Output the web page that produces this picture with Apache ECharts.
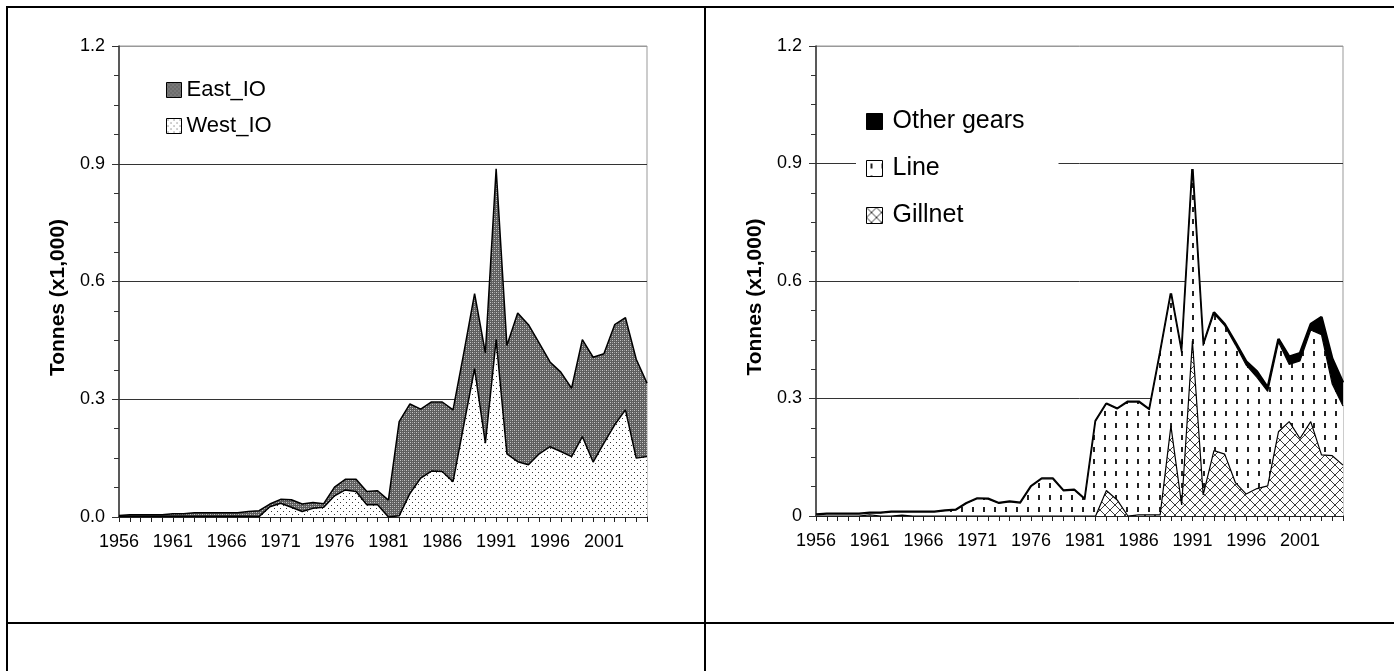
<!DOCTYPE html>
<html>
<head>
<meta charset="utf-8" />
<title>Tonnes by area and gear</title>
<script src="https://cdn.jsdelivr.net/npm/echarts@6/dist/echarts.min.js"></script>
<style>
html, body { margin: 0; padding: 0; background: #fff; }
#main { width: 1394px; height: 671px; }
</style>
</head>
<body>
<div id="main"></div>
<script type="text/javascript">
var years = ['1956','1957','1958','1959','1960','1961','1962','1963','1964','1965',
             '1966','1967','1968','1969','1970','1971','1972','1973','1974','1975',
             '1976','1977','1978','1979','1980','1981','1982','1983','1984','1985',
             '1986','1987','1988','1989','1990','1991','1992','1993','1994','1995',
             '1996','1997','1998','1999','2000','2001','2002','2003','2004','2005'];
var yTicks = [0, 0.3, 0.6, 0.9, 1.2];

// left chart (x1,000 t)
var westIO = [0.002,0.002,0.002,0.002,0.002,0.002,0.002,0.002,0.002,0.002,
              0.002,0.002,0.002,0.001,0.026,0.035,0.025,0.014,0.022,0.025,
              0.054,0.069,0.065,0.031,0.031,0.000,0.003,0.060,0.099,0.117,
              0.116,0.090,0.235,0.378,0.188,0.452,0.161,0.141,0.133,0.161,
              0.179,0.167,0.154,0.205,0.140,0.188,0.235,0.273,0.150,0.154];
var eastIO = [0.002,0.004,0.004,0.004,0.004,0.006,0.006,0.009,0.009,0.009,
              0.009,0.009,0.012,0.015,0.007,0.010,0.019,0.019,0.015,0.009,
              0.022,0.027,0.031,0.034,0.036,0.043,0.240,0.228,0.176,0.176,
              0.177,0.183,0.183,0.191,0.230,0.435,0.276,0.379,0.357,0.282,
              0.216,0.202,0.174,0.247,0.267,0.228,0.255,0.235,0.252,0.187];

// right chart (x1,000 t)
var gillnet = [0,0,0,0,0,0.003,0,0,0.002,0,
               0,0,0,0,0,0,0,0,0,0,
               0,0,0,0,0,0,0,0.065,0.041,0,
               0.003,0.003,0.003,0.230,0.028,0.447,0.054,0.167,0.158,0.085,
               0.056,0.070,0.077,0.215,0.241,0.198,0.241,0.156,0.154,0.130];
var lineGear = [0.003,0.005,0.005,0.005,0.005,0.004,0.007,0.010,0.008,0.010,
                0.010,0.010,0.013,0.015,0.032,0.044,0.043,0.032,0.036,0.033,
                0.075,0.095,0.095,0.064,0.066,0.042,0.242,0.221,0.232,0.291,
                0.288,0.268,0.413,0.337,0.388,0.438,0.381,0.350,0.328,0.352,
                0.329,0.284,0.241,0.229,0.146,0.198,0.234,0.307,0.183,0.151];
var otherGears = [0.001,0.001,0.001,0.001,0.001,0.001,0.001,0.001,0.001,0.001,
                  0.001,0.001,0.001,0.001,0.001,0.001,0.001,0.001,0.001,0.001,
                  0.001,0.001,0.001,0.001,0.001,0.001,0.001,0.001,0.001,0.001,
                  0.001,0.001,0.001,0.001,0.001,0.001,0.001,0.003,0.004,0.006,
                  0.010,0.015,0.010,0.008,0.020,0.020,0.015,0.045,0.065,0.060];

var FONT = '"Liberation Sans", Arial, sans-serif';

// fill patterns
function pattern(w, h, draw) {
  var c = document.createElement('canvas');
  c.width = w; c.height = h;
  var ctx = c.getContext('2d');
  ctx.fillStyle = '#fff';
  ctx.fillRect(0, 0, w, h);
  draw(ctx, w, h);
  return { image: c, repeat: 'repeat' };
}
var eastFill = pattern(4, 4, function (ctx) {
  ctx.fillStyle = '#5e5e5e'; ctx.fillRect(0, 0, 4, 4);
  ctx.fillStyle = '#c8c8c8'; ctx.fillRect(0, 0, 1, 1); ctx.fillRect(2, 2, 1, 1);
  ctx.fillStyle = '#999'; ctx.fillRect(2, 0, 1, 1); ctx.fillRect(0, 2, 1, 1);
});
var westFill = pattern(6, 6, function (ctx) {
  ctx.fillStyle = '#333'; ctx.fillRect(1, 1, 1, 1); ctx.fillRect(4, 4, 1, 1);
});
var lineFill = pattern(11, 12, function (ctx) {
  ctx.fillStyle = '#222'; ctx.fillRect(4, 3, 2, 5);
});
var gillFill = pattern(10, 10, function (ctx, w) {
  ctx.fillStyle = '#3a3a3a';
  for (var i = 0; i < w; i++) { ctx.fillRect(i, i, 1, 1); ctx.fillRect(w - 1 - i, i, 1, 1); }
});

function xAxisCfg(gridIndex) {
  return {
    type: 'category', gridIndex: gridIndex, data: years, boundaryGap: false,
    axisLine: { lineStyle: { color: '#222', width: 1.5 } },
    axisTick: { interval: 0, length: 5, lineStyle: { color: '#222' } },
    axisLabel: { interval: 4, margin: 16, color: '#000', fontSize: 18, fontFamily: FONT },
    splitLine: { show: false }
  };
}
function yAxisCfg(gridIndex, fmt) {
  return {
    type: 'value', gridIndex: gridIndex, min: yTicks[0], max: yTicks[yTicks.length - 1], interval: 0.3,
    name: 'Tonnes (x1,000)', nameLocation: 'middle', nameGap: 50,
    nameTextStyle: { fontSize: 21, fontWeight: 'bold', color: '#000', fontFamily: FONT, padding: [0, 32, 0, 0] },
    axisLine: { show: true, lineStyle: { color: '#333', width: 1.5 } },
    axisTick: { show: true, length: 7, lineStyle: { color: '#333' } },
    minorTick: { show: true, splitNumber: 4, length: 5, lineStyle: { color: '#333' } },
    axisLabel: { margin: 14, color: '#000', fontSize: 18, fontFamily: FONT, formatter: fmt },
    splitLine: { show: true, lineStyle: { color: ['#333', '#333', '#333', '#333', '#999'], width: 1 } }
  };
}
function area(name, gi, stack, data, fill, lw, z) {
  return {
    name: name, type: 'line', xAxisIndex: gi, yAxisIndex: gi, stack: stack, data: data,
    symbol: 'none', showSymbol: false, z: z,
    lineStyle: { color: '#000', width: lw },
    areaStyle: { color: fill, opacity: 1 },
    emphasis: { disabled: true }
  };
}

var chart = echarts.init(document.getElementById('main'));
chart.setOption({
  animation: false,
  backgroundColor: '#fff',
  grid: [
    { left: 119, top: 46, right: 747, bottom: 154, show: true, borderColor: '#999', borderWidth: 1 },
    { left: 816, top: 46, right: 51, bottom: 155, show: true, borderColor: '#999', borderWidth: 1 }
  ],
  xAxis: [xAxisCfg(0), xAxisCfg(1)],
  yAxis: [
    yAxisCfg(0, function (v) { return v.toFixed(1); }),
    yAxisCfg(1, function (v) { return v === 0 ? '0' : v.toFixed(1); })
  ],
  legend: [
    {
      orient: 'vertical', left: 166, top: 79, padding: 0, itemGap: 14,
      itemWidth: 15, itemHeight: 15, icon: 'rect', selectedMode: false,
      itemStyle: { borderColor: '#000', borderWidth: 1 },
      textStyle: { fontSize: 22, lineHeight: 22, color: '#000', fontFamily: FONT },
      data: [
        { name: 'East_IO', itemStyle: { color: eastFill } },
        { name: 'West_IO', itemStyle: { color: westFill } }
      ]
    },
    {
      orient: 'vertical', left: 856, top: 101, padding: [8, 34, 8, 10], itemGap: 22,
      backgroundColor: '#fff', itemWidth: 16, itemHeight: 16, icon: 'rect', selectedMode: false,
      itemStyle: { borderColor: '#000', borderWidth: 1 },
      textStyle: { fontSize: 25, lineHeight: 25, color: '#000', fontFamily: FONT, padding: [0, 0, 0, 5] },
      data: [
        { name: 'Other gears', itemStyle: { color: '#000' } },
        { name: 'Line', itemStyle: { color: lineFill } },
        { name: 'Gillnet', itemStyle: { color: gillFill } }
      ]
    }
  ],
  series: [
    area('West_IO', 0, 'io', westIO, westFill, 1.5, 3),
    area('East_IO', 0, 'io', eastIO, eastFill, 1.5, 2),
    area('Gillnet', 1, 'gear', gillnet, gillFill, 1.2, 4),
    area('Line', 1, 'gear', lineGear, lineFill, 1.2, 3),
    area('Other gears', 1, 'gear', otherGears, '#000', 2.5, 2)
  ],
  graphic: [
    { type: 'line', silent: true, shape: { x1: 6, y1: 7, x2: 1394, y2: 7 }, style: { stroke: '#000', lineWidth: 2 } },
    { type: 'line', silent: true, shape: { x1: 7, y1: 6, x2: 7, y2: 671 }, style: { stroke: '#000', lineWidth: 2 } },
    { type: 'line', silent: true, shape: { x1: 705, y1: 6, x2: 705, y2: 671 }, style: { stroke: '#000', lineWidth: 2 } },
    { type: 'line', silent: true, shape: { x1: 6, y1: 623, x2: 1394, y2: 623 }, style: { stroke: '#000', lineWidth: 2 } }
  ]
});
</script>
</body>
</html>
